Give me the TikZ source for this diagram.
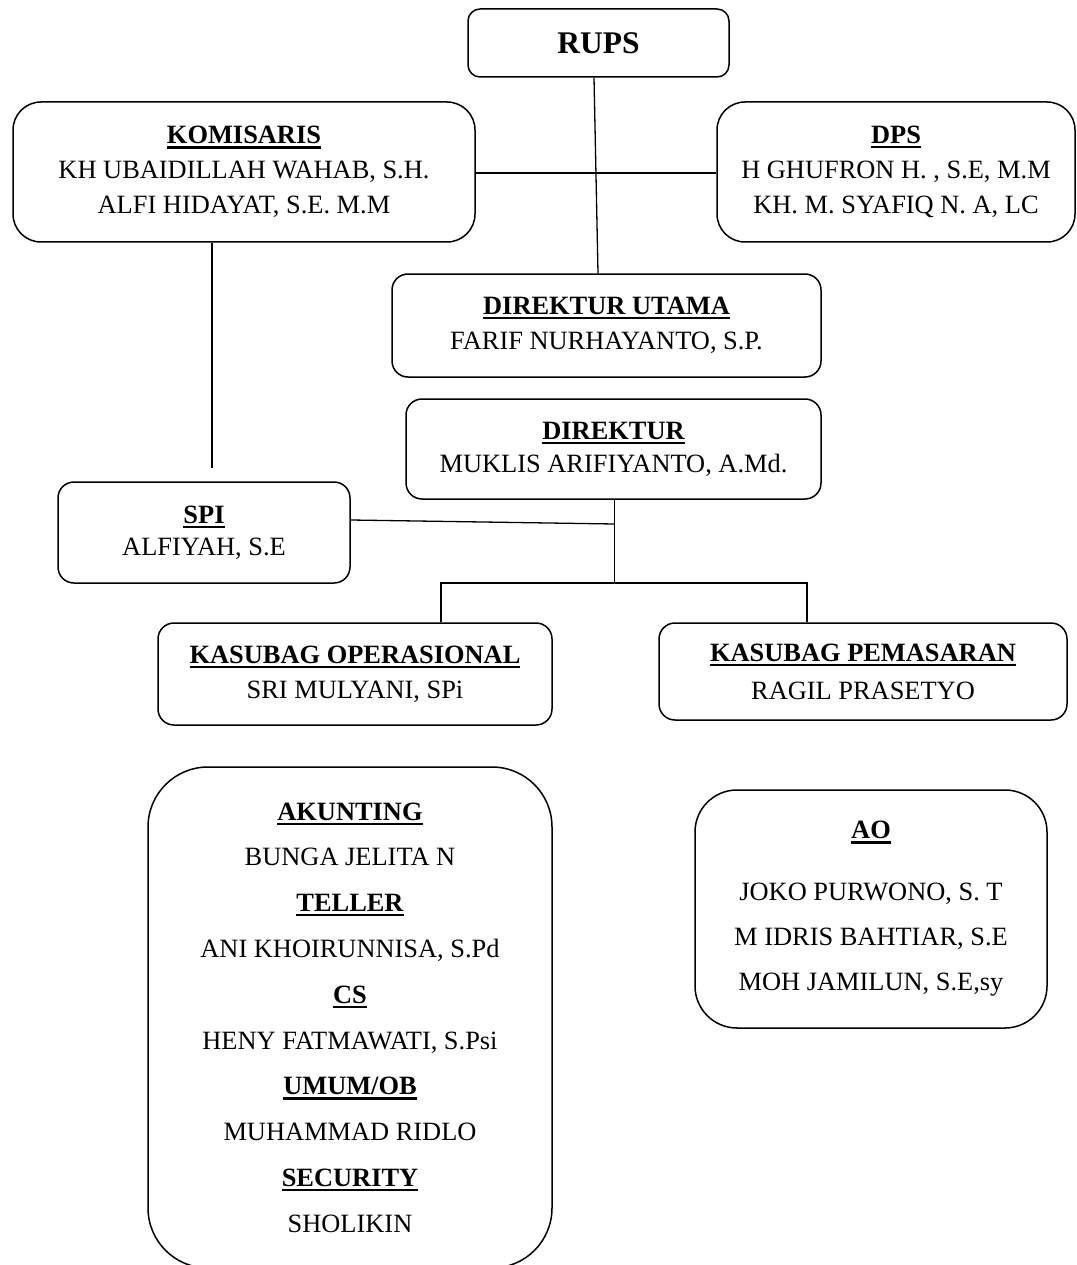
\documentclass[tikz,border=0pt]{standalone}
\usepackage{fontspec}
\setmainfont{Liberation Serif}
\usetikzlibrary{calc}
\newsavebox\hdbox
\newcommand\myhead[1]{\sbox\hdbox{\bfseries #1}\rlap{\usebox\hdbox}\raisebox{-4.8pt}{\rule{\wd\hdbox}{2.3pt}}}
\tikzset{
  box/.style={draw, line width=1.5pt, rounded corners=#1, inner sep=0pt, align=center,
    font=\fontsize{26.4}{35}\selectfont},
  box/.default=15pt,
  conn/.style={line width=1.3pt}
}
\begin{document}
\begin{tikzpicture}[x=1pt,y=-1pt]
\fill[white] (0,0) rectangle (1076,1265);
\useasboundingbox (0,0) rectangle (1076,1265);

\node[box=12pt, minimum width=261pt, minimum height=68pt,
  font=\fontsize{31.5}{35}\selectfont\bfseries] (rups) at (598.5,43) {RUPS};

\node[box=28pt, minimum width=462pt, minimum height=140pt] (kom) at (244,172)
  {\myhead{KOMISARIS}\\ KH UBAIDILLAH WAHAB, S.H.\\ ALFI HIDAYAT, S.E. M.M};

\node[box=28pt, minimum width=358pt, minimum height=140pt] (dps) at (896,172)
  {\myhead{DPS}\\ H GHUFRON H. , S.E, M.M\\ KH. M. SYAFIQ N. A, LC};

\node[box=16pt, minimum width=429pt, minimum height=103pt] (dirut) at (606.5,325.5)
  {\myhead{DIREKTUR UTAMA}\\ FARIF NURHAYANTO, S.P.};

\node[box=16pt, minimum width=415pt, minimum height=100pt,
  font=\fontsize{26.4}{33}\selectfont] (dir) at (613.5,449)
  {\myhead{DIREKTUR}\\ MUKLIS ARIFIYANTO, A.Md.};

\node[box=16pt, minimum width=292pt, minimum height=101pt,
  font=\fontsize{26.4}{32}\selectfont] (spi) at (204,532.5)
  {\myhead{SPI}\\ ALFIYAH, S.E};

\node[box=16pt, minimum width=394pt, minimum height=102pt] (kop) at (355,674)
  {\myhead{KASUBAG OPERASIONAL}\\ SRI MULYANI, SPi};

\node[box=16pt, minimum width=408pt, minimum height=97pt,
  font=\fontsize{26.4}{38}\selectfont] (kpm) at (863,671.5)
  {\myhead{KASUBAG PEMASARAN}\\ RAGIL PRASETYO};

\node[box=60pt, minimum width=404pt, minimum height=501pt,
  font=\fontsize{26.4}{45.8}\selectfont] (staff) at (350,1017.5)
  {\myhead{AKUNTING}\\ BUNGA JELITA N\\ \myhead{TELLER}\\ ANI KHOIRUNNISA, S.Pd\\
   \myhead{CS}\\ HENY FATMAWATI, S.Psi\\ \myhead{UMUM/OB}\\ MUHAMMAD RIDLO\\
   \myhead{SECURITY}\\ SHOLIKIN};

\node[box=42pt, minimum width=352pt, minimum height=238pt,
  font=\fontsize{26.4}{45}\selectfont] (ao) at (871,909)
  {\myhead{AO}\\[17pt] JOKO PURWONO, S. T\\ M IDRIS BAHTIAR, S.E\\ MOH JAMILUN, S.E,sy};

% connectors
\coordinate (komend) at (212,468);
\coordinate (j1) at (614.5,524);
\coordinate (j2) at (614.5,583);
\coordinate (ka) at (441,583);
\coordinate (kb) at (807,583);

\draw[conn] ($(rups.south)+(-4.5,0)$) -- ($(dirut.north)+(-8.5,0)$);
\draw[conn] ($(kom.east)+(0,1)$) -- ($(dps.west)+(0,1)$);
\draw[conn] (kom.south -| komend) -- (komend);
\draw[conn] ($(spi.east)+(0,-12.5)$) -- (j1);
\draw[conn] (dir.south -| j2) -- (j2);
\draw[conn] (kop.north -| ka) -- (ka) -- (kb) -- (kpm.north -| kb);
\end{tikzpicture}
\end{document}
